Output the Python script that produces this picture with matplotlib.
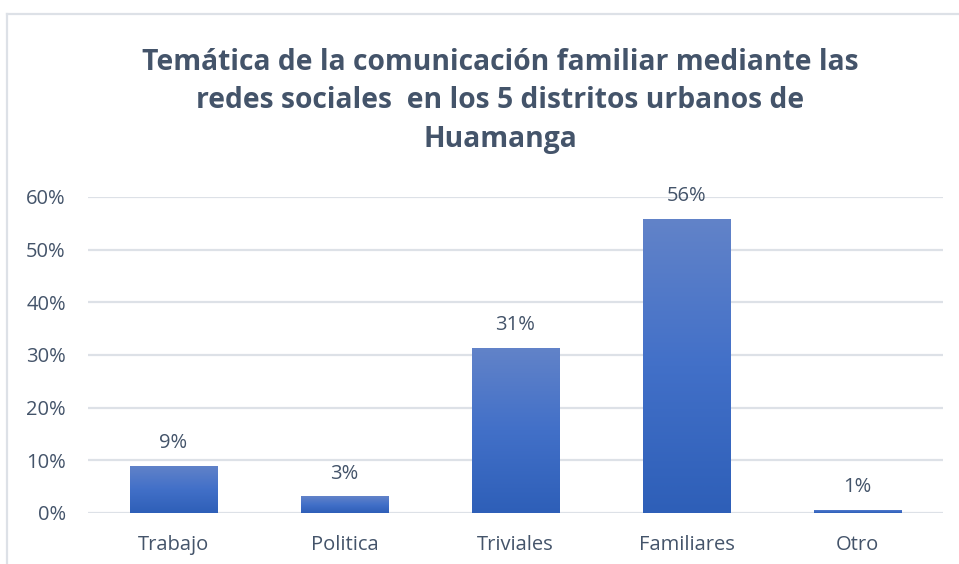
import matplotlib
matplotlib.use("Agg")
import matplotlib.pyplot as plt
import numpy as np
from matplotlib.colors import LinearSegmentedColormap
from matplotlib.ticker import PercentFormatter, MultipleLocator
from matplotlib.lines import Line2D

categories = ["Trabajo", "Politica", "Triviales", "Familiares", "Otro"]
values = [0.090, 0.032, 0.314, 0.559, 0.006]
labels = ["9%", "3%", "31%", "56%", "1%"]
title = ("Temática de la comunicación familiar mediante las\n"
         "redes sociales  en los 5 distritos urbanos de\nHuamanga")

plt.rcParams['font.family'] = ['Open Sans', 'DejaVu Sans']
text_color = '#44546A'
grid_color = '#DDE1E7'

fig = plt.figure(figsize=(9.59, 5.64), dpi=100)
ax = fig.add_axes([88/959, 1-513/564, (943-88)/959, (513-197)/564])

x = np.arange(len(categories))
bars = ax.bar(x, values, width=0.51, color='#4472C4', zorder=2)

cmap = LinearSegmentedColormap.from_list('g', ['#2E5FB8', '#4270C8', '#6283C9'])
grad = np.linspace(0, 1, 256).reshape(-1, 1)
for b in bars:
    x0, y0 = b.get_x(), b.get_y()
    w, h = b.get_width(), b.get_height()
    im = ax.imshow(grad, cmap=cmap, origin='lower', aspect='auto',
                   extent=[x0, x0 + w, y0, y0 + h], zorder=3)
    im.set_clip_path(b)

ax.set_xlim(-0.5, len(categories) - 0.5)
ax.set_ylim(0, 0.6)
ax.yaxis.set_major_locator(MultipleLocator(0.1))
ax.yaxis.set_major_formatter(PercentFormatter(1.0, decimals=0))
ax.set_xticks(x)
ax.set_xticklabels(categories)
ax.grid(axis='y', color=grid_color, linewidth=1.6, zorder=0)
ax.set_axisbelow(True)
for s in ax.spines.values():
    s.set_visible(False)
ax.tick_params(axis='both', length=0, labelsize=14.5, colors=text_color)
ax.tick_params(axis='y', pad=16)
ax.tick_params(axis='x', pad=16)

for xi, v, lab in zip(x, values, labels):
    ax.annotate(lab, (xi, v), xytext=(0, 9), textcoords='offset points',
                ha='center', va='bottom', fontsize=14.5, color=text_color)

fig.text(500/959, 1-101/564, title, ha='center', va='center', fontsize=20.3,
         fontweight='bold', color=text_color, linespacing=1.42)

# chart border (left and top visible)
fig.add_artist(Line2D([6.5/959, 6.5/959], [0, 1-13.5/564], transform=fig.transFigure,
                      color=grid_color, linewidth=1.6))
fig.add_artist(Line2D([6.5/959, 1], [1-13.5/564, 1-13.5/564], transform=fig.transFigure,
                      color=grid_color, linewidth=1.6))

fig.savefig('out.png', dpi=100)
